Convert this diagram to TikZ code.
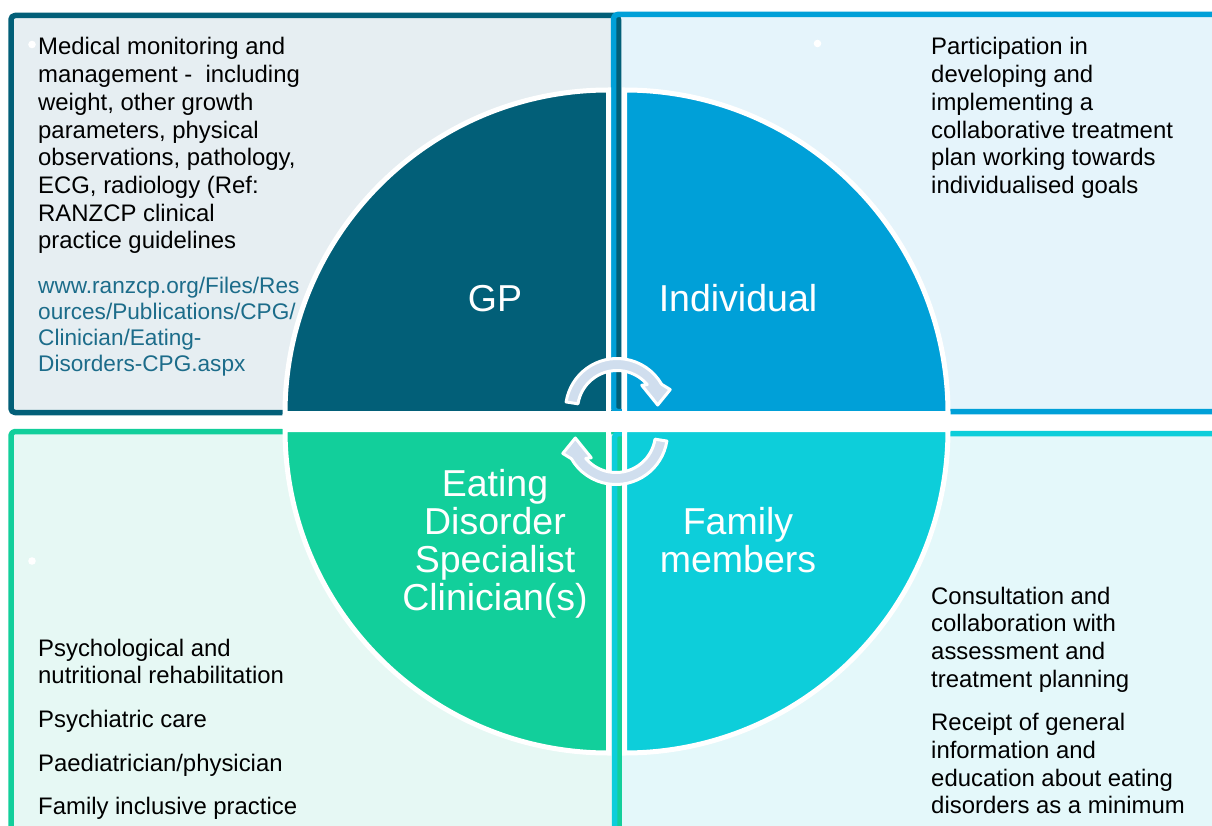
\documentclass[tikz,border=0pt]{standalone}
\usepackage{fontspec}
\setmainfont{Liberation Sans}
\definecolor{linegp}{RGB}{2,95,120}
\definecolor{fillgp}{RGB}{230,238,242}
\definecolor{lineind}{RGB}{0,160,216}
\definecolor{fillind}{RGB}{229,244,251}
\definecolor{lineed}{RGB}{18,207,155}
\definecolor{filled}{RGB}{230,248,244}
\definecolor{linefam}{RGB}{13,206,218}
\definecolor{fillfam}{RGB}{228,248,250}
\definecolor{arrowbg}{RGB}{208,222,238}
\definecolor{urlcol}{RGB}{28,108,138}
\begin{document}
\begin{tikzpicture}[x=1pt, y=1pt, line join=round]
	\tikzset{boxtext/.style={anchor=base west, inner sep=0, align=left, font=\fontsize{23.9}{27.7}\selectfont},
		qlabel/.style={anchor=base, inner sep=0, align=center, text=white, font=\fontsize{37.5}{38}\selectfont},
		boxline/.style={line width=5.5, rounded corners=4}}
	\def\R{323.5}
	\useasboundingbox (0,0) rectangle (1212,-826);
	\clip (0,0) rectangle (1212,-826);
	% the four boxes behind the circle
	\foreach \nm/\xa/\ya/\xb/\yb in {gp/11/-15.5/618.5/-412.5, ind/613.5/-14.5/1240/-411.5, ed/11/-431.5/619/-860, fam/614.5/-433.5/1240/-860}
		\fill[fill=fill\nm] (\xa,\ya) rectangle (\xb,\yb);
	\foreach \nm/\xa/\ya/\xb/\yb in {gp/11/-15.5/618.5/-412.5, ind/613.5/-14.5/1240/-411.5, ed/11/-431.5/619/-860, fam/614.5/-433.5/1240/-860}
		\draw[boxline, draw=line\nm] (\xa,\ya) rectangle (\xb,\yb);
	\fill[white] (283,-411) rectangle (950,-432);
	% quadrants
	\foreach \cx/\cy/\a/\nm in {608.5/-413.5/90/gp, 624.5/-413.5/0/ind, 608.5/-429.5/180/ed, 624.5/-429.5/270/fam}
		\filldraw[fill=line\nm, draw=white, line width=5, line join=miter] (\cx,\cy) -- ++(\a:\R) arc[start angle=\a, end angle=\a+90, radius=\R] -- cycle;
	% circular arrows
	\foreach \cx/\cy/\a in {617/-410/0, 616/-433/180}{
		\begin{scope}[shift={(\cx,\cy)}, rotate=\a]
			\filldraw[fill=arrowbg, draw=white, line width=3] (171:51.5) arc[start angle=171, end angle=30, radius=51.5] -- (21:57) -- (7:41) -- (45:35) -- (40:39.5) arc[start angle=40, end angle=171, radius=39.5] -- cycle;
		\end{scope}
	}
	\foreach \x/\y in {32/-44.5, 817.5/-43.5, 32/-561} \fill[white] (\x,\y) circle (3.8);
	% labels in the circle (anchored on the last baseline)
	\node[qlabel] (gp) at (495,-311.7) {GP};
	\node[qlabel] (ind) at (738,-311.7) {Individual};
	\node[qlabel] (eds) at (495,-610) {Eating\\Disorder\\Specialist\\Clinician(s)};
	\node[qlabel] (fam) at (738,-572) {Family\\members};
	% texts in the boxes
	\node[boxtext] (gptext) at (38,-248.9) {Medical monitoring and\\management -~ including\\weight, other growth\\parameters, physical\\observations, pathology,\\ECG, radiology (Ref:\\RANZCP clinical\\practice guidelines};
	\node[boxtext, text=urlcol, font=\fontsize{22.6}{26}\selectfont] (gpurl) at (38,-371) {www.ranzcp.org/Files/Res\\ources/Publications/CPG/\\Clinician/Eating-\\Disorders-CPG.aspx};
	\node[boxtext] (indtext) at (931,-193.5) {Participation in\\developing and\\implementing a\\collaborative treatment\\plan working towards\\individualised goals};
	\node[boxtext] (edtext) at (38,-814.8) {Psychological and\\nutritional rehabilitation\\[16pt]Psychiatric care\\[16pt]Paediatrician/physician\\[16pt]Family inclusive practice};
	\node[boxtext] (famtext) at (931,-813.9) {Consultation and\\collaboration with\\assessment and\\treatment planning\\[16pt]Receipt of general\\information and\\education about eating\\disorders as a minimum};
\end{tikzpicture}
\end{document}
